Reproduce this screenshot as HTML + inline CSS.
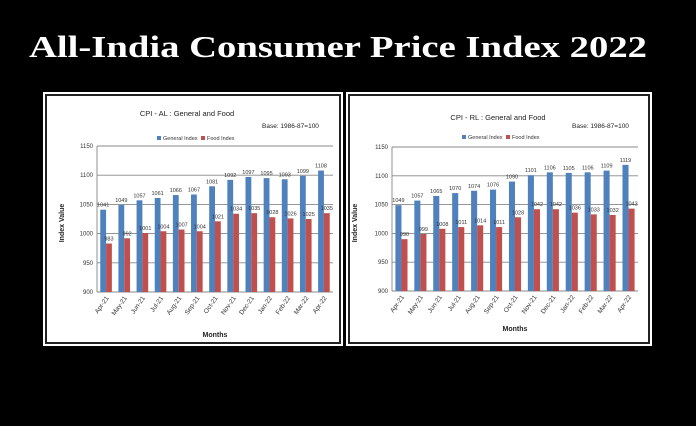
<!DOCTYPE html>
<html><head><meta charset="utf-8"><style>
html,body{margin:0;padding:0;background:#000;}
svg{display:block;}
text{font-family:"Liberation Sans",sans-serif;}
</style></head><body>
<svg id="s" width="696" height="426" viewBox="0 0 696 426">
<rect x="0" y="0" width="696" height="426" fill="#000"/>
<text x="29" y="57" font-weight="bold" font-size="31" fill="#fff" textLength="618" lengthAdjust="spacingAndGlyphs" style="font-family:'Liberation Serif',serif">All-India Consumer Price Index 2022</text>
</svg>
<script>
const months=["Apr-21","May-21","Jun-21","Jul-21","Aug-21","Sep-21","Oct-21","Nov-21","Dec-21","Jan-22","Feb-22","Mar-22","Apr-22"];
const alGeneral=[1041,1049,1057,1061,1066,1067,1081,1092,1097,1095,1093,1099,1108];
const alFood=[983,992,1001,1004,1007,1004,1021,1034,1035,1028,1026,1025,1035];
const rlGeneral=[1049,1057,1065,1070,1074,1076,1090,1101,1106,1105,1106,1109,1119];
const rlFood=[990,999,1008,1011,1014,1011,1028,1042,1042,1036,1033,1032,1043];
const yTicks=[900,950,1000,1050,1100,1150];

const NS="http://www.w3.org/2000/svg";
const svg=document.getElementById('s');
function mk(tag,attrs,parent,txt){const e=document.createElementNS(NS,tag);for(const k in attrs)e.setAttribute(k,attrs[k]);if(txt!==undefined)e.textContent=txt;(parent||svg).appendChild(e);return e;}

function chart(cfg,gen,food){
  const g=mk('g',{});
  
  
  const bg=mk('rect',{x:cfg.px,y:cfg.py,width:cfg.pw,height:cfg.ph,fill:'#fff'},g);
  
  
  mk('rect',{x:cfg.px+3,y:cfg.py+3,width:cfg.pw-6,height:cfg.ph-6,fill:'none',stroke:'#222','stroke-width':2},g);
  const y=v=>cfg.y0+(v-900)/250*(cfg.y1-cfg.y0);
  const step=(cfg.x1-cfg.x0)/months.length;
  const bw=step*0.32;
  yTicks.forEach(t=>{
    const l=mk('line',{x1:cfg.x0,x2:cfg.x1,y1:y(t),y2:y(t),stroke:'#888','stroke-width':0.9},g);
    
    
    const tl=mk('text',{x:cfg.x0-4,y:y(t)+2,'font-size':6,'text-anchor':'end',fill:'#333'},g,t);
    
    
  });
  mk('line',{x1:cfg.x0,x2:cfg.x0,y1:cfg.y1,y2:cfg.y0,stroke:'#777','stroke-width':0.8},g);
  months.forEach((m,i)=>{
    const cx=cfg.x0+step*(i+0.5);
    const b1=mk('rect',{x:cx-bw,y:y(gen[i]),width:bw,height:y(900)-y(gen[i]),fill:'#4f81bd'},g);
    
    
    const b2=mk('rect',{x:cx,y:y(food[i]),width:bw,height:y(900)-y(food[i]),fill:'#c0504d'},g);
    
    
    const v1=mk('text',{x:cx-bw/2,y:y(gen[i])-3,'font-size':5.5,'text-anchor':'middle',fill:'#333'},g,gen[i]);
    
    
    const v2=mk('text',{x:cx+bw/2,y:y(food[i])-3,'font-size':5.5,'text-anchor':'middle',fill:'#333'},g,food[i]);
    
    
    const xl=mk('text',{x:cx+3,y:cfg.y0+6,'font-size':6.5,'text-anchor':'end',fill:'#333',transform:`rotate(-55 ${cx+3} ${cfg.y0+6})`},g,m);
    
    
  });
  const t=mk('text',{x:cfg.tx,y:cfg.ty,'font-size':7.5,'text-anchor':'middle',fill:'#222'},g,cfg.title);
  
  
  const b=mk('text',{x:cfg.bx,y:128,'font-size':6.5,fill:'#222'},g,'Base: 1986-87=100');
  
  
  const lg=mk('g',{},g);
  
  
  mk('rect',{x:cfg.lx,y:cfg.ly-4,width:4,height:4,fill:'#4f81bd'},lg);
  mk('text',{x:cfg.lx+6,y:cfg.ly,'font-size':5.5,fill:'#333'},lg,'General Index');
  mk('rect',{x:cfg.lx+44,y:cfg.ly-4,width:4,height:4,fill:'#c0504d'},lg);
  mk('text',{x:cfg.lx+50,y:cfg.ly,'font-size':5.5,fill:'#333'},lg,'Food Index');
  const mo=mk('text',{x:(cfg.x0+cfg.x1)/2,y:cfg.my,'font-size':7,'font-weight':'bold','text-anchor':'middle',fill:'#222'},g,'Months');
  
  
  const iv=mk('text',{x:cfg.ivx,y:223,'font-size':7,'font-weight':'bold','text-anchor':'middle',fill:'#222',transform:`rotate(-90 ${cfg.ivx} 223)`},g,'Index Value');
  
  
}
chart({name:'cpi-al-chart',px:43,py:92,pw:300,ph:254,x0:97,x1:333,y0:292,y1:146,title:'CPI - AL : General and Food',tx:187,ty:116,bx:262,lx:157,ly:140,my:337,ivx:64},alGeneral,alFood);
chart({name:'cpi-rl-chart',px:346,py:92,pw:306,ph:254,x0:392,x1:638,y0:291,y1:147,title:'CPI - RL : General and Food',tx:498,ty:120,bx:572,lx:462,ly:139,my:331,ivx:357},rlGeneral,rlFood);
</script>
</body></html>
